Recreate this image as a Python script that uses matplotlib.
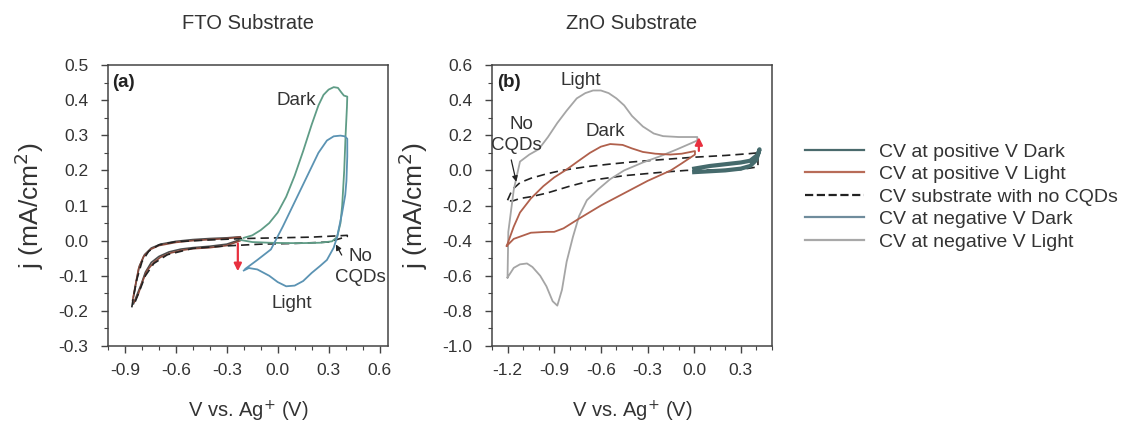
import matplotlib
matplotlib.use("Agg")
import matplotlib.pyplot as plt
from matplotlib.lines import Line2D
from matplotlib.ticker import MultipleLocator

plt.rcParams['font.family'] = ['Liberation Sans', 'DejaVu Sans']

# ---------------- data: panel (a) FTO ----------------
a_dark_v = [-0.22, -0.15, -0.05, 0.05, 0.15, 0.25, 0.32, 0.35, 0.37, 0.38, 0.392, 0.40, 0.408, 0.41,
            0.39, 0.375, 0.355, 0.33, 0.30, 0.27, 0.24, 0.20, 0.15, 0.10, 0.05, 0.0, -0.05, -0.10, -0.15, -0.20]
a_dark_j = [0.002, -0.004, -0.006, -0.007, -0.007, -0.006, -0.002, 0.01, 0.05, 0.10, 0.20, 0.30, 0.38, 0.41,
            0.413, 0.422, 0.435, 0.437, 0.43, 0.415, 0.385, 0.33, 0.255, 0.185, 0.125, 0.08, 0.05, 0.03, 0.015, 0.008]

a_light_v = [-0.20, -0.17, -0.12, -0.05, 0.0, 0.05, 0.10, 0.15, 0.20, 0.25, 0.29, 0.33, 0.35, 0.38, 0.398, 0.405,
             0.41, 0.41, 0.395, 0.37, 0.33, 0.29, 0.24, 0.19, 0.13, 0.08, 0.03, -0.04, -0.12, -0.19]
a_light_j = [-0.085, -0.078, -0.082, -0.10, -0.118, -0.13, -0.128, -0.115, -0.092, -0.072, -0.055, -0.02, 0.01, 0.08, 0.13, 0.17,
             0.24, 0.29, 0.297, 0.299, 0.297, 0.285, 0.25, 0.20, 0.14, 0.09, 0.04, -0.025, -0.055, -0.08]

a_pos_light_v = [-0.855, -0.84, -0.82, -0.79, -0.75, -0.70, -0.60, -0.50, -0.40, -0.30, -0.22,
                 -0.22, -0.30, -0.40, -0.50, -0.56, -0.63, -0.69, -0.73, -0.77, -0.80, -0.82, -0.845]
a_pos_light_j = [-0.17, -0.13, -0.08, -0.045, -0.025, -0.014, -0.005, 0.0, 0.003, 0.006, 0.01,
                 0.0, -0.014, -0.02, -0.023, -0.027, -0.035, -0.047, -0.062, -0.085, -0.12, -0.15, -0.175]
a_pos_dark_v = [-0.85, -0.835, -0.815, -0.785, -0.745, -0.69, -0.60, -0.50, -0.40, -0.30, -0.22,
                -0.22, -0.30, -0.40, -0.50, -0.57, -0.64, -0.70, -0.745, -0.78, -0.805, -0.83, -0.85]
a_pos_dark_j = [-0.16, -0.12, -0.072, -0.04, -0.021, -0.01, -0.002, 0.003, 0.006, 0.008, 0.011,
                0.003, -0.01, -0.016, -0.02, -0.024, -0.032, -0.045, -0.062, -0.09, -0.125, -0.155, -0.18]

a_noq_v = [-0.86, -0.85, -0.83, -0.80, -0.76, -0.70, -0.60, -0.40, -0.20, 0.0, 0.20, 0.41,
           0.41, 0.30, 0.10, -0.10, -0.30, -0.50, -0.65, -0.73, -0.78, -0.82, -0.845]
a_noq_j = [-0.19, -0.16, -0.11, -0.06, -0.03, -0.012, -0.003, 0.002, 0.006, 0.008, 0.010, 0.015,
           0.012, -0.004, -0.008, -0.010, -0.015, -0.022, -0.040, -0.065, -0.10, -0.15, -0.18]

# ---------------- data: panel (b) ZnO ----------------
b_light_v = [-1.20, -1.195, -1.16, -1.12, -1.06, -1.0, -0.94, -0.88, -0.82, -0.755, -0.70, -0.65, -0.60, -0.55,
             -0.50, -0.45, -0.40, -0.33, -0.26, -0.20, -0.10, 0.02,
             0.02, -0.11, -0.22, -0.33, -0.45, -0.54, -0.62, -0.69, -0.74, -0.78, -0.82, -0.85, -0.88,
             -0.91, -0.95, -0.99, -1.04, -1.075, -1.12, -1.16, -1.20]
b_light_j = [-0.61, -0.35, -0.11, 0.05, 0.09, 0.12, 0.19, 0.27, 0.34, 0.41, 0.44, 0.455, 0.455, 0.44,
             0.41, 0.37, 0.31, 0.25, 0.21, 0.195, 0.19, 0.19,
             0.17, 0.12, 0.08, 0.045, 0.0, -0.05, -0.11, -0.17, -0.26, -0.38, -0.52, -0.68, -0.77,
             -0.745, -0.66, -0.60, -0.55, -0.53, -0.535, -0.555, -0.61]

b_dark_v = [-1.205, -1.16, -1.12, -1.05, -0.97, -0.90, -0.82, -0.75, -0.67, -0.60, -0.54, -0.46, -0.40,
            -0.33, -0.25, -0.155, -0.08, 0.005,
            0.005, -0.08, -0.15, -0.30, -0.45, -0.60, -0.75, -0.84, -0.90, -0.95, -1.05, -1.16, -1.205]
b_dark_j = [-0.43, -0.32, -0.24, -0.16, -0.09, -0.04, 0.005, 0.05, 0.10, 0.135, 0.15, 0.145, 0.125,
            0.105, 0.095, 0.09, 0.095, 0.11,
            0.09, 0.04, 0.0, -0.06, -0.13, -0.20, -0.28, -0.33, -0.35, -0.35, -0.355, -0.39, -0.43]

b_noq_v = [-1.20, -1.17, -1.12, -1.05, -0.95, -0.85, -0.70, -0.55, -0.40, -0.20, 0.0, 0.20, 0.35, 0.41,
           0.41, 0.30, 0.10, -0.05, -0.20, -0.45, -0.65, -0.80, -0.95, -1.05, -1.12, -1.17, -1.20]
b_noq_j = [-0.17, -0.11, -0.07, -0.045, -0.02, 0.0, 0.02, 0.035, 0.048, 0.062, 0.075, 0.085, 0.095, 0.10,
           0.02, 0.005, 0.002, 0.0, -0.01, -0.03, -0.055, -0.09, -0.13, -0.15, -0.16, -0.175, -0.17]

b_pos_dark_v = [0.0, 0.10, 0.20, 0.30, 0.36, 0.40, 0.42, 0.41, 0.36, 0.30, 0.20, 0.10, 0.0]
b_pos_dark_j = [-0.01, -0.005, 0.0, 0.01, 0.025, 0.06, 0.12, 0.09, 0.055, 0.045, 0.035, 0.025, 0.01]

# legend
legend_labels = ["CV at positive V Dark", "CV at positive V Light", "CV substrate with no CQDs",
                 "CV at negative V Dark", "CV at negative V Light"]
legend_colors = ["#4a6a6c", "#b86c58", "#222222", "#6f8c9c", "#a8a8a8"]
legend_styles = ["-", "-", "--", "-", "-"]

# ---------------- figure ----------------
fig = plt.figure(figsize=(11.23, 4.36), dpi=100)
axA = fig.add_axes([0.0962, 0.2064, 0.2493, 0.6445])
axB = fig.add_axes([0.4381, 0.2064, 0.2493, 0.6445])

TXT = "#333333"
TICK_FS = 12.5
LAB_FS = 14.5
YLAB_FS = 19
ANN_FS = 13.5

def style(ax):
    for s in ax.spines.values():
        s.set_color("#444444")
        s.set_linewidth(1.1)
    ax.tick_params(which='both', direction='out', colors="#444444", labelcolor=TXT,
                   labelsize=TICK_FS, top=False, right=False)
    ax.tick_params(which='major', length=5, width=1.0)
    ax.tick_params(which='minor', length=3, width=0.8)
    ax.tick_params(axis='y', which='major', pad=9)
    ax.tick_params(axis='x', which='major', pad=7)

# panel a
axA.plot(a_pos_dark_v, a_pos_dark_j, color="#4d4d4d", lw=1.2)
axA.plot(a_pos_light_v, a_pos_light_j, color="#8a4a3c", lw=1.2)
axA.plot(a_noq_v, a_noq_j, color="#222222", lw=1.2, ls=(0, (5, 3)))
axA.plot(a_dark_v, a_dark_j, color="#5f9c86", lw=1.3)
axA.plot(a_light_v, a_light_j, color="#5b93b3", lw=1.3)
axA.annotate("", xy=(-0.235, -0.095), xytext=(-0.235, 0.0),
             arrowprops=dict(arrowstyle='-|>', color="#e8303f", lw=1.6, mutation_scale=11))
axA.annotate("", xy=(0.335, -0.004), xytext=(0.385, -0.048),
             arrowprops=dict(arrowstyle='-|>', color="#222222", lw=0.9, mutation_scale=8))
axA.text(0.49, -0.045, "No", ha='center', va='center', fontsize=ANN_FS, color=TXT)
axA.text(0.49, -0.105, "CQDs", ha='center', va='center', fontsize=ANN_FS, color=TXT)
axA.text(0.11, 0.40, "Dark", ha='center', va='center', fontsize=ANN_FS, color=TXT)
axA.text(0.08, -0.178, "Light", ha='center', va='center', fontsize=ANN_FS, color=TXT)
axA.text(-0.975, 0.45, "(a)", ha='left', va='center', fontsize=ANN_FS, fontweight='bold', color="#222222")
axA.set_xlim(-1.0, 0.65)
axA.set_ylim(-0.3, 0.5)
axA.xaxis.set_minor_locator(MultipleLocator(0.1))
axA.yaxis.set_minor_locator(MultipleLocator(0.05))
axA.set_xticks([-0.9, -0.6, -0.3, 0.0, 0.3, 0.6])
axA.set_xticklabels(["-0.9", "-0.6", "-0.3", "0.0", "0.3", "0.6"])
axA.set_yticks([-0.3, -0.2, -0.1, 0.0, 0.1, 0.2, 0.3, 0.4, 0.5])
axA.set_yticklabels(["-0.3", "-0.2", "-0.1", "0.0", "0.1", "0.2", "0.3", "0.4", "0.5"])
style(axA)
axA.set_xlabel("V vs. Ag$^{+}$ (V)", fontsize=LAB_FS, color=TXT, labelpad=15)
axA.set_ylabel("j (mA/cm$^{2}$)", fontsize=YLAB_FS, color=TXT, labelpad=9)
axA.set_title("FTO Substrate", fontsize=14.5, color=TXT, pad=26)

# panel b
axB.plot(b_noq_v, b_noq_j, color="#222222", lw=1.2, ls=(0, (5, 3)))
axB.plot(b_light_v, b_light_j, color="#a5a5a5", lw=1.3)
axB.plot(b_dark_v, b_dark_j, color="#b0604c", lw=1.3)
axB.plot(b_pos_dark_v, b_pos_dark_j, color="#456a6c", lw=3.0)
axB.annotate("", xy=(0.03, 0.205), xytext=(0.03, 0.095),
             arrowprops=dict(arrowstyle='-|>', color="#e8303f", lw=1.6, mutation_scale=11))
axB.annotate("", xy=(-1.14, -0.08), xytext=(-1.18, 0.075),
             arrowprops=dict(arrowstyle='-|>', color="#222222", lw=0.9, mutation_scale=8))
axB.text(-1.11, 0.26, "No", ha='center', va='center', fontsize=ANN_FS, color=TXT)
axB.text(-1.14, 0.14, "CQDs", ha='center', va='center', fontsize=ANN_FS, color=TXT)
axB.text(-0.57, 0.22, "Dark", ha='center', va='center', fontsize=ANN_FS, color=TXT)
axB.text(-0.73, 0.51, "Light", ha='center', va='center', fontsize=ANN_FS, color=TXT)
axB.text(-1.27, 0.50, "(b)", ha='left', va='center', fontsize=ANN_FS, fontweight='bold', color="#222222")
axB.set_xlim(-1.3, 0.5)
axB.set_ylim(-1.0, 0.6)
axB.xaxis.set_minor_locator(MultipleLocator(0.1))
axB.yaxis.set_minor_locator(MultipleLocator(0.1))
axB.set_xticks([-1.2, -0.9, -0.6, -0.3, 0.0, 0.3])
axB.set_xticklabels(["-1.2", "-0.9", "-0.6", "-0.3", "0.0", "0.3"])
axB.set_yticks([-1.0, -0.8, -0.6, -0.4, -0.2, 0.0, 0.2, 0.4, 0.6])
axB.set_yticklabels(["-1.0", "-0.8", "-0.6", "-0.4", "-0.2", "0.0", "0.2", "0.4", "0.6"])
style(axB)
axB.set_xlabel("V vs. Ag$^{+}$ (V)", fontsize=LAB_FS, color=TXT, labelpad=15)
axB.set_ylabel("j (mA/cm$^{2}$)", fontsize=YLAB_FS, color=TXT, labelpad=9)
axB.set_title("ZnO Substrate", fontsize=14.5, color=TXT, pad=26)

handles = [Line2D([], [], color=c, ls=s, lw=1.6) for c, s in zip(legend_colors, legend_styles)]
leg = fig.legend(handles, legend_labels, loc='upper left', bbox_to_anchor=(0.717, 0.672),
                 frameon=False, fontsize=14, handlelength=3.0, handletextpad=0.8,
                 labelspacing=0.25, borderaxespad=0, borderpad=0)
for t in leg.get_texts():
    t.set_color(TXT)

fig.savefig("out.png", dpi=100, facecolor="white")
